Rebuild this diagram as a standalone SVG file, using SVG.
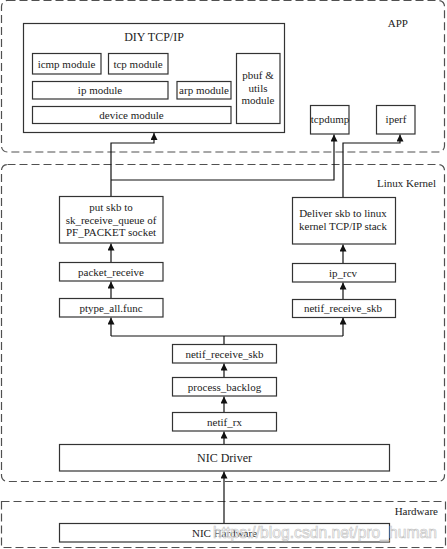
<svg xmlns="http://www.w3.org/2000/svg" width="447" height="549" viewBox="0 0 447 549">
<style>
.zone{fill:none;stroke:#505050;stroke-width:1.2;stroke-dasharray:8 4}
.box{fill:#fff;stroke:#333;stroke-width:1.2}
.t{font-family:"Liberation Serif","DejaVu Serif","Times New Roman",serif;font-size:11px;fill:#222;text-anchor:middle}
.lbl{font-family:"Liberation Serif","DejaVu Serif","Times New Roman",serif;font-size:11px;fill:#222;text-anchor:end}
.c{fill:none;stroke:#111;stroke-width:1.2}
.wm{font-family:"Liberation Sans",Arial,sans-serif;font-size:17px;fill:#fff;stroke:#bbb;stroke-width:0.7;opacity:0.85}
</style>
<defs>
<marker id="ah" markerUnits="userSpaceOnUse" markerWidth="8" markerHeight="8" refX="7" refY="3.5" orient="auto">
<path d="M0,0 L7,3.5 L0,7 z" fill="#111"/>
</marker>
</defs>
<rect width="447" height="549" fill="#fff"/>

<g id="zone-app">
<rect class="zone" x="1.5" y="0.5" width="443" height="151.5" rx="6"/>
<text class="lbl" x="408" y="27">APP</text>
</g>
<g id="zone-kernel">
<rect class="zone" x="1.5" y="164.5" width="443" height="317" rx="6"/>
<text class="lbl" x="436" y="187">Linux Kernel</text>
</g>
<g id="zone-hardware">
<rect class="zone" x="1.5" y="501.5" width="444" height="46"/>
<text class="lbl" x="438" y="515">Hardware</text>
</g>

<g id="connectors">
<path class="c" d="M111,196 V143 H154 V133" marker-end="url(#ah)"/>
<path class="c" d="M111,180 H334 V134.5" marker-end="url(#ah)"/>
<path class="c" d="M343,197 V143 H400 V134.5" marker-end="url(#ah)"/>
<path class="c" d="M111,262 V243.5" marker-end="url(#ah)"/>
<path class="c" d="M111,298 V281.5" marker-end="url(#ah)"/>
<path class="c" d="M343,263 V244.5" marker-end="url(#ah)"/>
<path class="c" d="M343,299 V282.5" marker-end="url(#ah)"/>
<path class="c" d="M224,344 V336 M111,336 H343"/>
<path class="c" d="M111,336 V317.5" marker-end="url(#ah)"/>
<path class="c" d="M343,336 V317.5" marker-end="url(#ah)"/>
<path class="c" d="M224,377 V363.5" marker-end="url(#ah)"/>
<path class="c" d="M224,412 V396.5" marker-end="url(#ah)"/>
<path class="c" d="M224,444 V431.5" marker-end="url(#ah)"/>
<path class="c" d="M224,523 V471.5" marker-end="url(#ah)"/>
</g>

<g id="diy-tcpip">
<rect class="box" x="23.5" y="23.5" width="261" height="109"/>
<text class="t" x="154" y="41" style="font-size:12px">DIY TCP/IP</text>
</g>
<g id="icmp-module">
<rect class="box" x="32.5" y="53.5" width="68.5" height="20.5"/>
<text class="t" x="66.5" y="67.5">icmp module</text>
</g>
<g id="tcp-module">
<rect class="box" x="108.5" y="53.5" width="59.5" height="20.5"/>
<text class="t" x="138" y="67.5">tcp module</text>
</g>
<g id="ip-module">
<rect class="box" x="32.5" y="81.5" width="135.5" height="17.5"/>
<text class="t" x="100" y="94">ip module</text>
</g>
<g id="arp-module">
<rect class="box" x="177" y="81.5" width="54" height="17.5"/>
<text class="t" x="204" y="94">arp module</text>
</g>
<g id="device-module">
<rect class="box" x="32.5" y="106.5" width="198.5" height="17"/>
<text class="t" x="131.5" y="119">device module</text>
</g>
<g id="pbuf-utils">
<rect class="box" x="236.5" y="53.5" width="43.5" height="70"/>
<text class="t" x="258" y="79">pbuf &amp;</text>
<text class="t" x="258" y="92">utils</text>
<text class="t" x="258" y="104">module</text>
</g>
<g id="tcpdump">
<rect class="box" x="310.5" y="105.5" width="38.5" height="28.5"/>
<text class="t" x="330" y="123">tcpdump</text>
</g>
<g id="iperf">
<rect class="box" x="376.5" y="105.5" width="38.5" height="28.5"/>
<text class="t" x="396" y="123">iperf</text>
</g>

<g id="put-skb">
<rect class="box" x="59.5" y="196.5" width="103.5" height="46.5"/>
<text class="t" x="111" y="211">put skb to</text>
<text class="t" x="111" y="223.5">sk_receive_queue of</text>
<text class="t" x="111" y="236">PF_PACKET socket</text>
</g>
<g id="deliver-skb">
<rect class="box" x="292.5" y="197.5" width="103" height="46.5"/>
<text class="t" x="343" y="217">Deliver skb to linux</text>
<text class="t" x="343" y="230">kernel TCP/IP stack</text>
</g>
<g id="packet-receive">
<rect class="box" x="59.5" y="262.5" width="103.5" height="18.5"/>
<text class="t" x="111" y="275.5">packet_receive</text>
</g>
<g id="ip-rcv">
<rect class="box" x="292.5" y="263.5" width="103" height="18.5"/>
<text class="t" x="343" y="276.5">ip_rcv</text>
</g>
<g id="ptype-all-func">
<rect class="box" x="59.5" y="298.5" width="103.5" height="18.5"/>
<text class="t" x="111" y="311.5">ptype_all.func</text>
</g>
<g id="netif-receive-skb-right">
<rect class="box" x="292.5" y="299.5" width="103" height="18"/>
<text class="t" x="343" y="312">netif_receive_skb</text>
</g>
<g id="netif-receive-skb">
<rect class="box" x="172.5" y="344.5" width="104" height="18.5"/>
<text class="t" x="224.5" y="357.5">netif_receive_skb</text>
</g>
<g id="process-backlog">
<rect class="box" x="172.5" y="377.5" width="104" height="18.5"/>
<text class="t" x="224.5" y="390.5">process_backlog</text>
</g>
<g id="netif-rx">
<rect class="box" x="172.5" y="412.5" width="104" height="18.5"/>
<text class="t" x="224.5" y="425.5">netif_rx</text>
</g>
<g id="nic-driver">
<rect class="box" x="59.5" y="444.5" width="330" height="26.5"/>
<text class="t" x="224.5" y="461.5" style="font-size:12px">NIC Driver</text>
</g>
<g id="nic-hardware">
<rect class="box" x="59.5" y="523.5" width="330" height="18.5"/>
<text class="t" x="224.5" y="536.5">NIC Hardware</text>
</g>
<text class="wm" x="213" y="538" textLength="224" lengthAdjust="spacingAndGlyphs">https://blog.csdn.net/pro_human</text>
</svg>
